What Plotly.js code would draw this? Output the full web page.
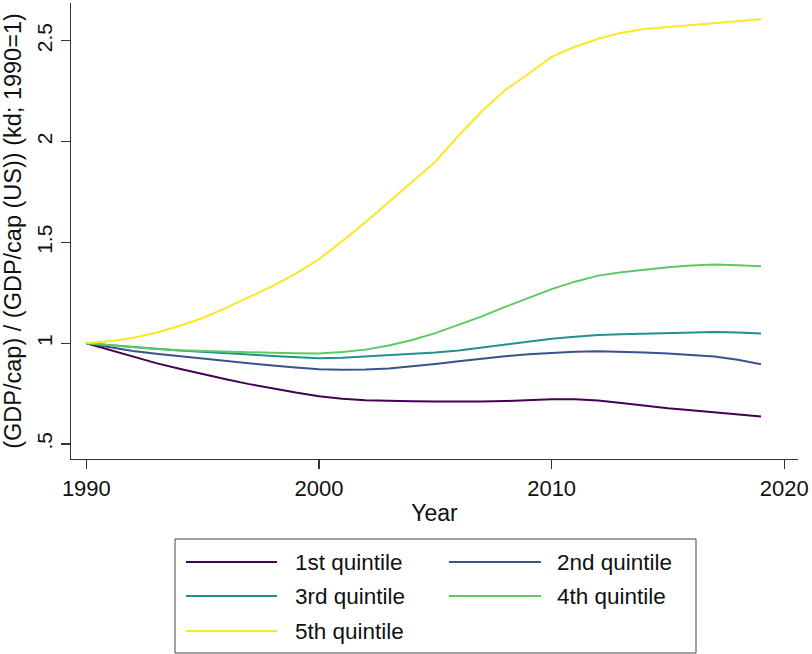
<!DOCTYPE html>
<html><head><meta charset="utf-8">
<script src="https://cdn.plot.ly/plotly-3.0.1.min.js"></script>
<style>html,body{margin:0;padding:0;background:#fff;}</style>
</head><body><div id="chart" style="width:812px;height:654px;"></div>
<script>
const years = [1990,1991,1992,1993,1994,1995,1996,1997,1998,1999,2000,2001,2002,2003,2004,2005,2006,2007,2008,2009,2010,2011,2012,2013,2014,2015,2016,2017,2018,2019];
const q1 = [1.0,0.966,0.933,0.901,0.873,0.846,0.821,0.797,0.775,0.755,0.737,0.725,0.717,0.713,0.712,0.711,0.71,0.711,0.713,0.718,0.722,0.722,0.716,0.703,0.689,0.677,0.667,0.657,0.647,0.636];
const q2 = [1.0,0.98,0.961,0.947,0.935,0.922,0.91,0.899,0.889,0.879,0.871,0.868,0.869,0.875,0.885,0.897,0.91,0.923,0.935,0.945,0.952,0.957,0.96,0.958,0.954,0.949,0.943,0.934,0.918,0.896];
const q3 = [1.0,0.99,0.981,0.972,0.964,0.958,0.952,0.944,0.936,0.929,0.925,0.928,0.934,0.940,0.947,0.954,0.964,0.978,0.993,1.008,1.022,1.032,1.04,1.044,1.047,1.051,1.055,1.056,1.053,1.048];
const q4 = [1.0,0.99,0.979,0.971,0.965,0.961,0.958,0.955,0.952,0.95,0.949,0.956,0.968,0.988,1.016,1.05,1.09,1.133,1.18,1.225,1.268,1.305,1.335,1.352,1.365,1.376,1.385,1.39,1.387,1.382];
const q5 = [1.0,1.01,1.026,1.052,1.085,1.125,1.175,1.228,1.283,1.345,1.416,1.506,1.60,1.70,1.80,1.90,2.03,2.15,2.255,2.335,2.42,2.47,2.51,2.54,2.558,2.568,2.578,2.588,2.598,2.607];
const seriesNames = ['1st quintile','2nd quintile','3rd quintile','4th quintile','5th quintile'];
const seriesColors = ['#440154','#3b528b','#21918c','#5ec962','#fde725'];
const xTickVals = [1990,2000,2010,2020];
const yTickVals = [0.5,1,1.5,2,2.5];
const yTickText = ['.5','1','1.5','2','2.5'];
const xTitle = 'Year';
const yTitle = '(GDP/cap) / (GDP/cap (US)) (kd; 1990=1)';

const W = 812, H = 654, L = 71, R = 14, T = 3, B = 195;
const FONT = 'Liberation Sans, Arial, sans-serif';
const AX = '#333333';
function px(x){ return (x - L) / (W - L - R); }
function py(y){ return (H - B - y) / (H - T - B); }

const series = [q1, q2, q3, q4, q5];
const traces = series.map((s, i) => ({
  x: years, y: s, type: 'scatter', mode: 'lines', name: seriesNames[i],
  line: {color: seriesColors[i], width: 2}, showlegend: false
}));

// custom legend (box, sample lines, labels)
const shapes = [{type:'rect', xref:'paper', yref:'paper', x0:px(175), x1:px(696), y0:py(539), y1:py(653),
  line:{color:'#444444', width:1}, fillcolor:'rgba(0,0,0,0)'}];
const annotations = [];
const colX = [[186,277,293],[449,541,555]];
const rowY = [562,596,631];
seriesNames.forEach((n, i) => {
  const c = colX[i % 2], r = rowY[Math.floor(i / 2)];
  shapes.push({type:'line', xref:'paper', yref:'paper', x0:px(c[0]), x1:px(c[1]), y0:py(r), y1:py(r),
    line:{color:seriesColors[i], width:2}});
  annotations.push({xref:'paper', yref:'paper', x:px(c[2]), y:py(r), text:n, showarrow:false,
    xanchor:'left', yanchor:'middle', font:{family:FONT, size:22.5, color:'#111'}});
});

const layout = {
  width: W, height: H,
  margin: {l: L, r: R, t: T, b: B, pad: 0},
  paper_bgcolor: '#fff', plot_bgcolor: '#fff',
  font: {family: FONT, size: 22, color: '#111'},
  showlegend: false,
  xaxis: {
    range: [1989.34, 2020.59], tickvals: xTickVals, ticktext: xTickVals.map(String),
    showline: true, linecolor: AX, linewidth: 1.3, ticks: 'outside', ticklen: 9, tickcolor: AX, tickwidth: 1.3,
    showgrid: false, zeroline: false, tickfont: {size: 22},
    title: {text: xTitle, font: {size: 23}, standoff: 5}
  },
  yaxis: {
    range: [0.4256, 2.687], tickvals: yTickVals, ticktext: yTickText, tickangle: -90,
    showline: true, linecolor: AX, linewidth: 1.3, ticks: 'outside', ticklen: 9, tickcolor: AX, tickwidth: 1.3,
    showgrid: false, zeroline: false, tickfont: {size: 21},
    title: {text: yTitle, font: {size: 23.5}, standoff: 6}
  },
  shapes: shapes, annotations: annotations
};
Plotly.newPlot('chart', traces, layout, {staticPlot: true, displayModeBar: false});
</script></body></html>
